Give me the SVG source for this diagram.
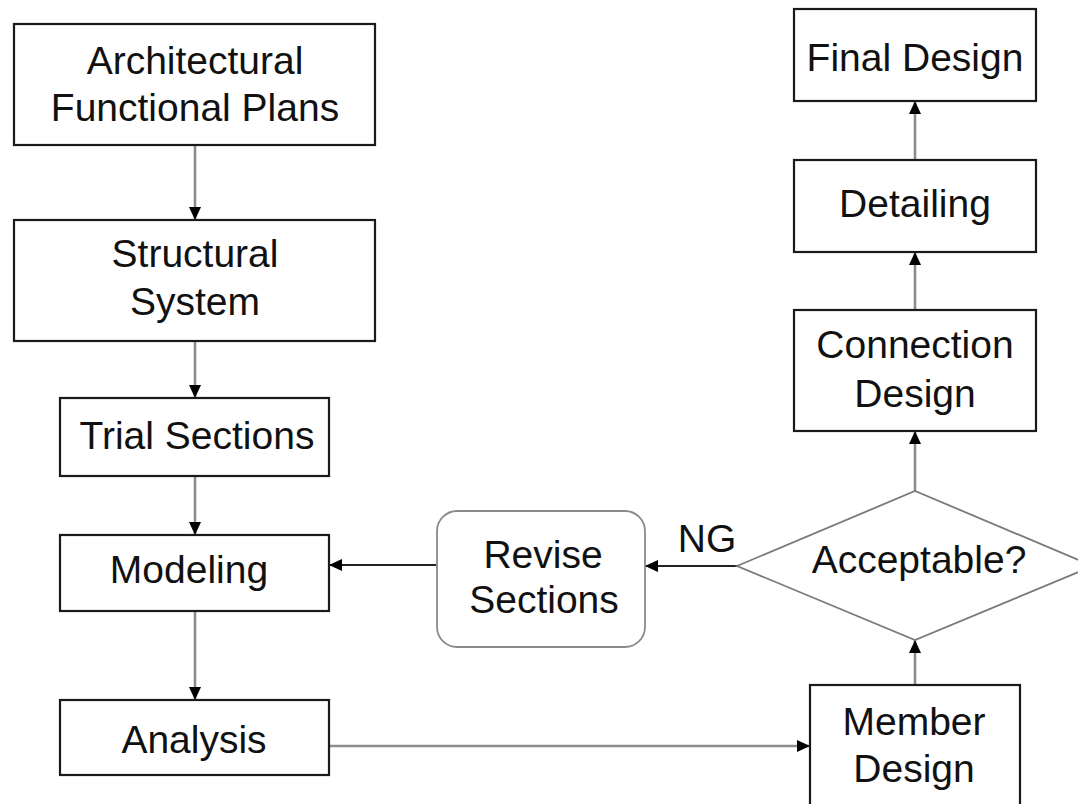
<svg xmlns="http://www.w3.org/2000/svg" width="1078" height="804" viewBox="0 0 1078 804">
<style>
.box{fill:#fff;stroke:#1a1a1a;stroke-width:2.2}
.rbox{fill:#fff;stroke:#8a8a8a;stroke-width:1.8}
.dia{fill:#fff;stroke:#7a7a7a;stroke-width:1.8}
.t{font-family:"Liberation Sans",Arial,sans-serif;font-size:39px;fill:#111;text-anchor:middle}
.c{fill:none;stroke:#8c8c8c;stroke-width:2.6}
.cd{fill:none;stroke:#222;stroke-width:1.8}
</style>
<defs>
<marker id="ah" markerUnits="userSpaceOnUse" markerWidth="14" markerHeight="14" refX="13" refY="7" orient="auto">
<path d="M0,1 L13,7 L0,13 z" fill="#000"/>
</marker>
</defs>
<rect width="1078" height="804" fill="#fff"/>
<g id="connectors">
<line class="c" x1="195" y1="145" x2="195" y2="220" marker-end="url(#ah)"/>
<line class="c" x1="195" y1="341" x2="195" y2="398" marker-end="url(#ah)"/>
<line class="c" x1="195" y1="476" x2="195" y2="535" marker-end="url(#ah)"/>
<line class="c" x1="195" y1="611" x2="195" y2="700" marker-end="url(#ah)"/>
<line class="c" x1="329" y1="746" x2="810" y2="746" marker-end="url(#ah)"/>
<line class="cd" x1="437" y1="565" x2="329" y2="565" marker-end="url(#ah)"/>
<line class="cd" x1="737" y1="566" x2="645" y2="566" marker-end="url(#ah)"/>
<line class="c" x1="915" y1="685" x2="915" y2="640" marker-end="url(#ah)"/>
<line class="c" x1="915" y1="491" x2="915" y2="431" marker-end="url(#ah)"/>
<line class="c" x1="915" y1="310" x2="915" y2="252" marker-end="url(#ah)"/>
<line class="c" x1="915" y1="160" x2="915" y2="101" marker-end="url(#ah)"/>
<text class="t" x="707" y="552">NG</text>
</g>
<g id="architectural">
<rect class="box" x="14" y="24" width="361" height="121"/>
<text class="t" x="195" y="74">Architectural</text>
<text class="t" x="195" y="121">Functional Plans</text>
</g>
<g id="structural">
<rect class="box" x="14" y="220" width="361" height="121"/>
<text class="t" x="195" y="267">Structural</text>
<text class="t" x="195" y="315">System</text>
</g>
<g id="trial">
<rect class="box" x="60" y="398" width="269" height="78"/>
<text class="t" x="197" y="449">Trial Sections</text>
</g>
<g id="modeling">
<rect class="box" x="60" y="535" width="269" height="76"/>
<text class="t" x="189" y="583">Modeling</text>
</g>
<g id="analysis">
<rect class="box" x="60" y="700" width="269" height="75"/>
<text class="t" x="194" y="753">Analysis</text>
</g>
<g id="revise">
<rect class="rbox" x="437" y="511" width="208" height="136" rx="20" ry="20"/>
<text class="t" x="543" y="568">Revise</text>
<text class="t" x="544" y="613">Sections</text>
</g>
<g id="acceptable">
<polygon class="dia" points="737,566 915,491 1093,566 915,640"/>
<text class="t" x="919" y="573">Acceptable?</text>
</g>
<g id="member">
<rect class="box" x="810" y="685" width="210" height="130"/>
<text class="t" x="914" y="735">Member</text>
<text class="t" x="914" y="782">Design</text>
</g>
<g id="connection">
<rect class="box" x="794" y="310" width="242" height="121"/>
<text class="t" x="915" y="358">Connection</text>
<text class="t" x="915" y="407">Design</text>
</g>
<g id="detailing">
<rect class="box" x="794" y="160" width="242" height="92"/>
<text class="t" x="915" y="217">Detailing</text>
</g>
<g id="final">
<rect class="box" x="794" y="9" width="242" height="92"/>
<text class="t" x="915" y="71">Final Design</text>
</g>
</svg>
